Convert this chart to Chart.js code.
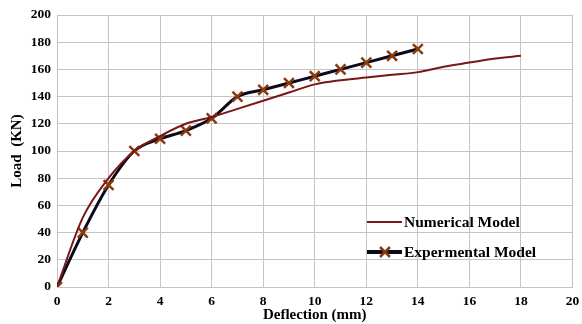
<!DOCTYPE html>
<html>
<head>
<meta charset="utf-8">
<script src="https://cdn.jsdelivr.net/npm/chart.js@4/dist/chart.umd.min.js"></script>
<style>
  html, body { margin: 0; padding: 0; background: #fff; }
  #wrap { width: 582px; height: 324px; }
</style>
</head>
<body>
<div id="wrap"><canvas id="chart"></canvas></div>
<script>
// data
const numX = [0, 1, 2, 3, 4, 5, 6, 7, 8, 9, 10, 11, 12, 13, 14, 15, 16, 17, 18]
const numY = [0, 51, 80, 100, 111, 120, 125, 131, 137, 143, 149, 152, 154, 156, 158, 162, 165, 168, 170]
const expX = [0, 1, 2, 3, 4, 5, 6, 7, 8, 9, 10, 11, 12, 13, 14]
const expY = [0, 40, 75, 100, 109, 115, 124, 140, 145, 150, 155, 160, 165, 170, 175]

const serif = "'Liberation Serif', 'Times New Roman', serif"
const toPts = (xs, ys) => xs.map((x, i) => ({ x: x, y: ys[i] }))

// legend drawn inside the plot area
const insideLegend = {
    id: 'insideLegend',
    afterDraw(c) {
        const ctx = c.ctx
        const items = [
            { text: 'Numerical Model', color: '#7a1616', width: 2, marker: false, y: 222 },
            { text: 'Expermental Model', color: '#0a0a1a', width: 4, marker: true, y: 252 }
        ]
        ctx.save()
        items.forEach(it => {
            ctx.strokeStyle = it.color
            ctx.lineWidth = it.width
            ctx.beginPath()
            ctx.moveTo(367, it.y)
            ctx.lineTo(402, it.y)
            ctx.stroke()
            if (it.marker) {
                ctx.strokeStyle = '#8b3a0f'
                ctx.lineWidth = 2.5
                ctx.beginPath()
                ctx.moveTo(380, it.y - 5); ctx.lineTo(390, it.y + 5)
                ctx.moveTo(390, it.y - 5); ctx.lineTo(380, it.y + 5)
                ctx.stroke()
            }
            ctx.fillStyle = '#000'
            ctx.font = 'bold 15.5px ' + serif
            ctx.textBaseline = 'middle'
            ctx.fillText(it.text, 404, it.y + 1)
        })
        ctx.restore()
    }
}

const chart = document.querySelector('#chart').getContext('2d')

new Chart(chart, {
    type: 'scatter',
    data: {
        datasets: [
            {
                label: 'Numerical Model',
                data: toPts(numX, numY),
                showLine: true,
                borderColor: '#7a1616',
                borderWidth: 2,
                pointRadius: 0,
                cubicInterpolationMode: 'monotone'
            },
            {
                label: 'Expermental Model',
                data: toPts(expX, expY),
                showLine: true,
                borderColor: '#0a0a1a',
                borderWidth: 3,
                pointStyle: 'crossRot',
                pointRadius: 7,
                pointBorderColor: '#8b3a0f',
                pointBorderWidth: 2.5,
                cubicInterpolationMode: 'monotone'
            }
        ]
    },
    options: {
        responsive: true,
        maintainAspectRatio: false,
        animation: false,
        layout: { padding: { top: 15, right: 5, left: 0, bottom: 0 } },
        plugins: {
            legend: { display: false },
            tooltip: { enabled: false }
        },
        scales: {
            x: {
                min: 0, max: 20,
                ticks: { stepSize: 2, color: '#000', font: { family: serif, size: 13.5, weight: 'bold' }, maxRotation: 0, padding: 6 },
                grid: { color: '#c4c4c4', drawTicks: false },
                border: { color: '#c4c4c4' },
                title: { display: true, text: 'Deflection (mm)', color: '#000', font: { family: serif, size: 15, weight: 'bold' }, padding: 0 },
                afterFit: s => { s.height = 37; s.paddingRight = 0; s.paddingLeft = 0 }
            },
            y: {
                min: 0, max: 200,
                ticks: { stepSize: 20, color: '#000', font: { family: serif, size: 13.5, weight: 'bold' }, padding: 6 },
                grid: { color: '#c4c4c4', drawTicks: false },
                border: { color: '#c4c4c4' },
                title: { display: true, text: 'Load  (KN)', color: '#000', font: { family: serif, size: 15, weight: 'bold' }, padding: { top: 8, bottom: 0 } },
                afterFit: s => { s.width = 57; s.paddingTop = 0; s.paddingBottom = 0 }
            }
        }
    },
    plugins: [insideLegend]
})
</script>
</body>
</html>
